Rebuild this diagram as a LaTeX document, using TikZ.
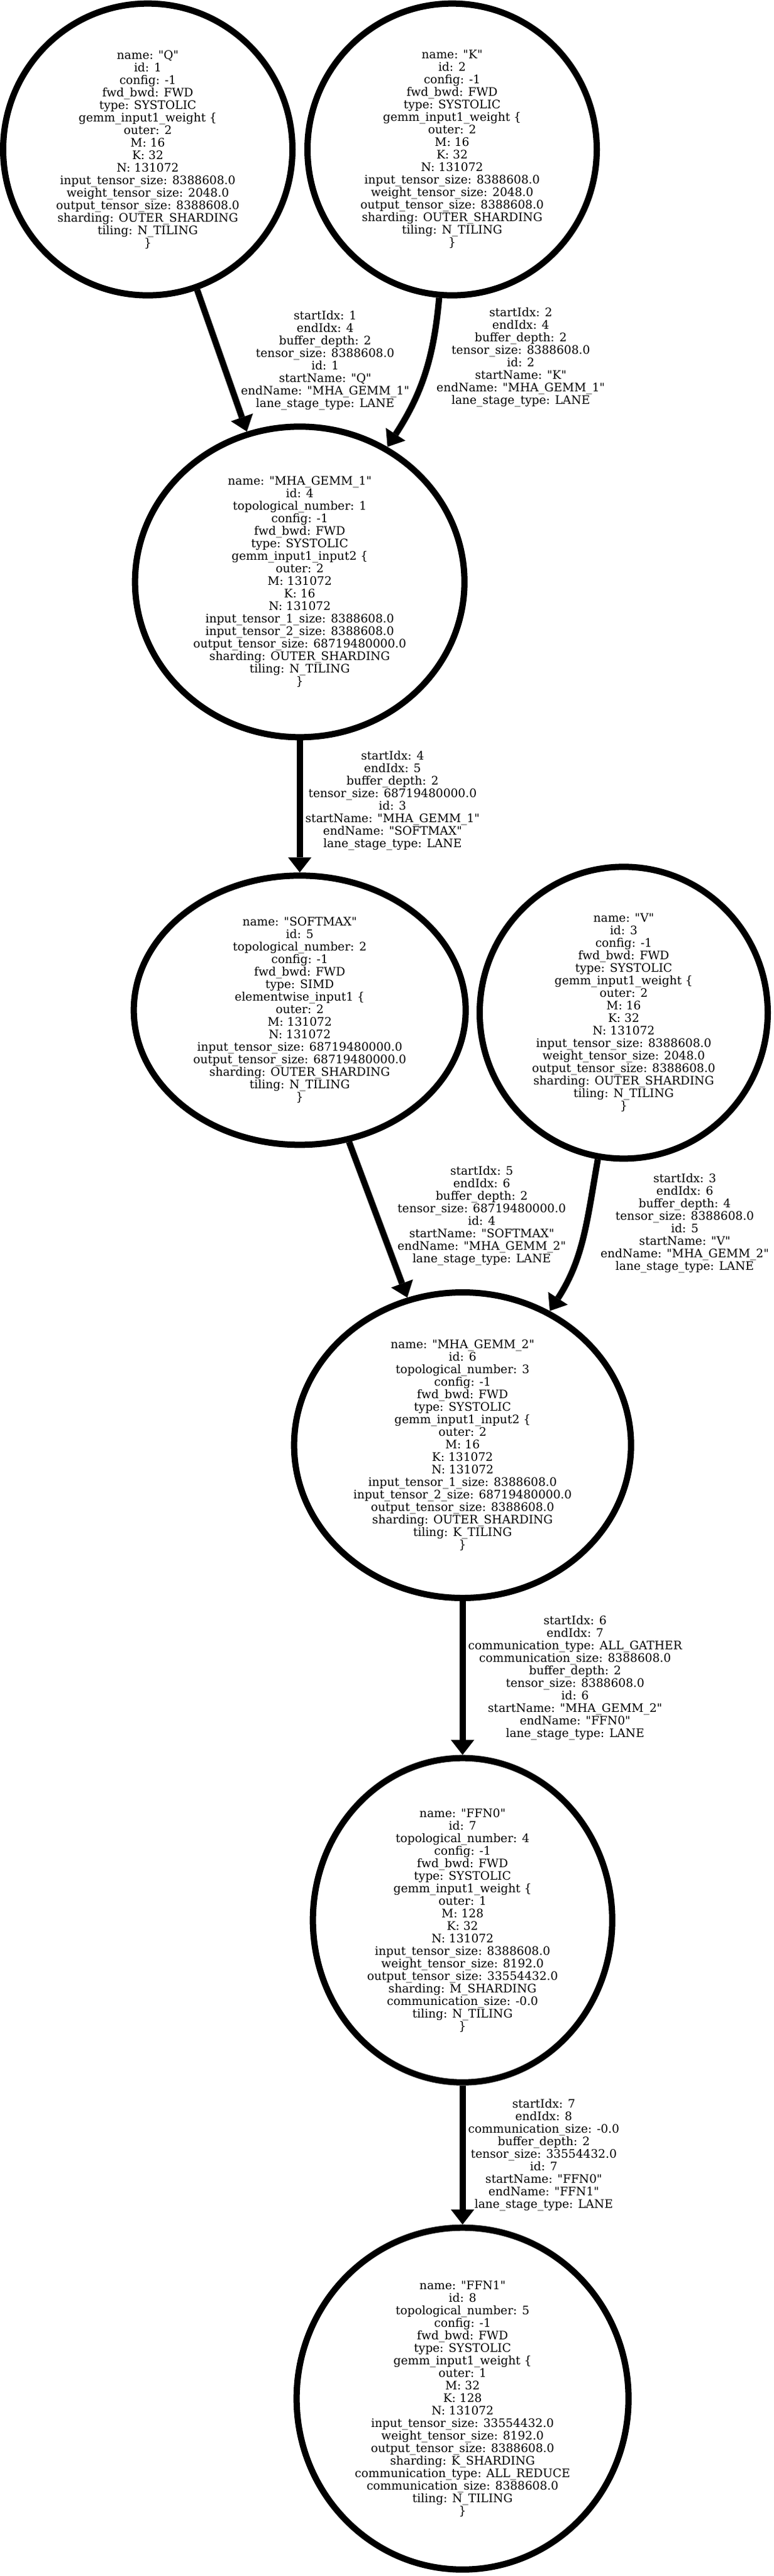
\documentclass[tikz,border=0pt]{standalone}
\usepackage{fontspec}
\setmainfont{DejaVu Serif}[Ligatures=TeXOff]
\usetikzlibrary{shapes.geometric, arrows.meta, positioning}

\begin{document}
\begin{tikzpicture}[node distance={518pt}, line width=7.5pt,
    >={Triangle[width=28pt, length=18pt, line width=0pt]},
    op/.style = {draw, ellipse, inner sep=0pt, align=center, font=\fontsize{14pt}{15pt}\selectfont},
    lbl/.style = {inner sep=3pt, align=center, font=\fontsize{14pt}{15pt}\selectfont}]
    \useasboundingbox (0,0) rectangle (926.25pt,-3085.5pt);

    %inputs of the first gemm

    \node[op, minimum width=346.5pt, minimum height=349.5pt] (Q) at (177pt,-179pt) {name: "Q"\\ id: 1\\ config: -1\\ fwd\_bwd: FWD\\ type: SYSTOLIC\\ gemm\_input1\_weight \{\\ outer: 2\\ M: 16\\ K: 32\\ N: 131072\\ input\_tensor\_size: 8388608.0\\ weight\_tensor\_size: 2048.0\\ output\_tensor\_size: 8388608.0\\ sharding: OUTER\_SHARDING\\ tiling: N\_TILING\\ \}};
    \node[op, minimum width=346.5pt, minimum height=349.5pt] (K) [right of=Q, xshift=-153.5pt] {name: "K"\\ id: 2\\ config: -1\\ fwd\_bwd: FWD\\ type: SYSTOLIC\\ gemm\_input1\_weight \{\\ outer: 2\\ M: 16\\ K: 32\\ N: 131072\\ input\_tensor\_size: 8388608.0\\ weight\_tensor\_size: 2048.0\\ output\_tensor\_size: 8388608.0\\ sharding: OUTER\_SHARDING\\ tiling: N\_TILING\\ \}};

    \node[op, minimum width=394.5pt, minimum height=372pt] (MHA1) [below of=Q, xshift=182pt] {name: "MHA\_GEMM\_1"\\ id: 4\\ topological\_number: 1\\ config: -1\\ fwd\_bwd: FWD\\ type: SYSTOLIC\\ gemm\_input1\_input2 \{\\ outer: 2\\ M: 131072\\ K: 16\\ N: 131072\\ input\_tensor\_1\_size: 8388608.0\\ input\_tensor\_2\_size: 8388608.0\\ output\_tensor\_size: 68719480000.0\\ sharding: OUTER\_SHARDING\\ tiling: N\_TILING\\ \}};
    \draw[->] (Q) -- (MHA1) node[lbl, midway, right, xshift=16pt] (E1) {startIdx: 1\\ endIdx: 4\\ buffer\_depth: 2\\ tensor\_size: 8388608.0\\ id: 1\\ startName: "Q"\\ endName: "MHA\_GEMM\_1"\\ lane\_stage\_type: LANE};
    \draw[->] (K) to [out=-95, in=57] node[lbl, midway, right, xshift=8.5pt, yshift=22.5pt] (E2) {startIdx: 2\\ endIdx: 4\\ buffer\_depth: 2\\ tensor\_size: 8388608.0\\ id: 2\\ startName: "K"\\ endName: "MHA\_GEMM\_1"\\ lane\_stage\_type: LANE} (MHA1);

    %softmax and v

    \node[op, minimum width=397.5pt, minimum height=322.5pt] (SOFTMAX) [below of=MHA1, yshift=5pt] {name: "SOFTMAX"\\ id: 5\\ topological\_number: 2\\ config: -1\\ fwd\_bwd: FWD\\ type: SIMD\\ elementwise\_input1 \{\\ outer: 2\\ M: 131072\\ N: 131072\\ input\_tensor\_size: 68719480000.0\\ output\_tensor\_size: 68719480000.0\\ sharding: OUTER\_SHARDING\\ tiling: N\_TILING\\ \}};
    \node[op, minimum width=345pt, minimum height=349.5pt] (V) [right of=SOFTMAX, xshift=-130pt, yshift=-3pt] {name: "V"\\ id: 3\\ config: -1\\ fwd\_bwd: FWD\\ type: SYSTOLIC\\ gemm\_input1\_weight \{\\ outer: 2\\ M: 16\\ K: 32\\ N: 131072\\ input\_tensor\_size: 8388608.0\\ weight\_tensor\_size: 2048.0\\ output\_tensor\_size: 8388608.0\\ sharding: OUTER\_SHARDING\\ tiling: N\_TILING\\ \}};
    \draw[->] (MHA1) -- (SOFTMAX) node[lbl, midway, right, yshift=7pt] (E3) {startIdx: 4\\ endIdx: 5\\ buffer\_depth: 2\\ tensor\_size: 68719480000.0\\ id: 3\\ startName: "MHA\_GEMM\_1"\\ endName: "SOFTMAX"\\ lane\_stage\_type: LANE};

    %second gemm

    \node[op, minimum width=403.5pt, minimum height=366pt] (MHA2) [below of=SOFTMAX, xshift=195pt, yshift=-3pt] {name: "MHA\_GEMM\_2"\\ id: 6\\ topological\_number: 3\\ config: -1\\ fwd\_bwd: FWD\\ type: SYSTOLIC\\ gemm\_input1\_input2 \{\\ outer: 2\\ M: 16\\ K: 131072\\ N: 131072\\ input\_tensor\_1\_size: 8388608.0\\ input\_tensor\_2\_size: 68719480000.0\\ output\_tensor\_size: 8388608.0\\ sharding: OUTER\_SHARDING\\ tiling: K\_TILING\\ \}};
    \draw[->] (SOFTMAX) -- (MHA2) node[lbl, midway, right, xshift=16.5pt, yshift=5pt] (E4) {startIdx: 5\\ endIdx: 6\\ buffer\_depth: 2\\ tensor\_size: 68719480000.0\\ id: 4\\ startName: "SOFTMAX"\\ endName: "MHA\_GEMM\_2"\\ lane\_stage\_type: LANE};
    \draw[->] (V) to [out=-100, in=57] node[lbl, midway, right, xshift=15pt, yshift=18pt] (E5) {startIdx: 3\\ endIdx: 6\\ buffer\_depth: 4\\ tensor\_size: 8388608.0\\ id: 5\\ startName: "V"\\ endName: "MHA\_GEMM\_2"\\ lane\_stage\_type: LANE} (MHA2);

    %feed forward

    \node[op, minimum width=358.5pt, minimum height=388.5pt] (FFN0) [below of=MHA2, yshift=-51pt] {name: "FFN0"\\ id: 7\\ topological\_number: 4\\ config: -1\\ fwd\_bwd: FWD\\ type: SYSTOLIC\\ gemm\_input1\_weight \{\\ outer: 1\\ M: 128\\ K: 32\\ N: 131072\\ input\_tensor\_size: 8388608.0\\ weight\_tensor\_size: 8192.0\\ output\_tensor\_size: 33554432.0\\ sharding: M\_SHARDING\\ communication\_size: -0.0\\ tiling: N\_TILING\\ \}};
    \draw[->] (MHA2) -- (FFN0) node[lbl, midway, right] (E6) {startIdx: 6\\ endIdx: 7\\ communication\_type: ALL\_GATHER\\ communication\_size: 8388608.0\\ buffer\_depth: 2\\ tensor\_size: 8388608.0\\ id: 6\\ startName: "MHA\_GEMM\_2"\\ endName: "FFN0"\\ lane\_stage\_type: LANE};

    \node[op, minimum width=397.5pt, minimum height=409.5pt] (FFN1) [below of=FFN0, yshift=-55pt] {name: "FFN1"\\ id: 8\\ topological\_number: 5\\ config: -1\\ fwd\_bwd: FWD\\ type: SYSTOLIC\\ gemm\_input1\_weight \{\\ outer: 1\\ M: 32\\ K: 128\\ N: 131072\\ input\_tensor\_size: 33554432.0\\ weight\_tensor\_size: 8192.0\\ output\_tensor\_size: 8388608.0\\ sharding: K\_SHARDING\\ communication\_type: ALL\_REDUCE\\ communication\_size: 8388608.0\\ tiling: N\_TILING\\ \}};
    \draw[->] (FFN0) -- (FFN1) node[lbl, midway, right] (E7) {startIdx: 7\\ endIdx: 8\\ communication\_size: -0.0\\ buffer\_depth: 2\\ tensor\_size: 33554432.0\\ id: 7\\ startName: "FFN0"\\ endName: "FFN1"\\ lane\_stage\_type: LANE};
\end{tikzpicture}
\end{document}
